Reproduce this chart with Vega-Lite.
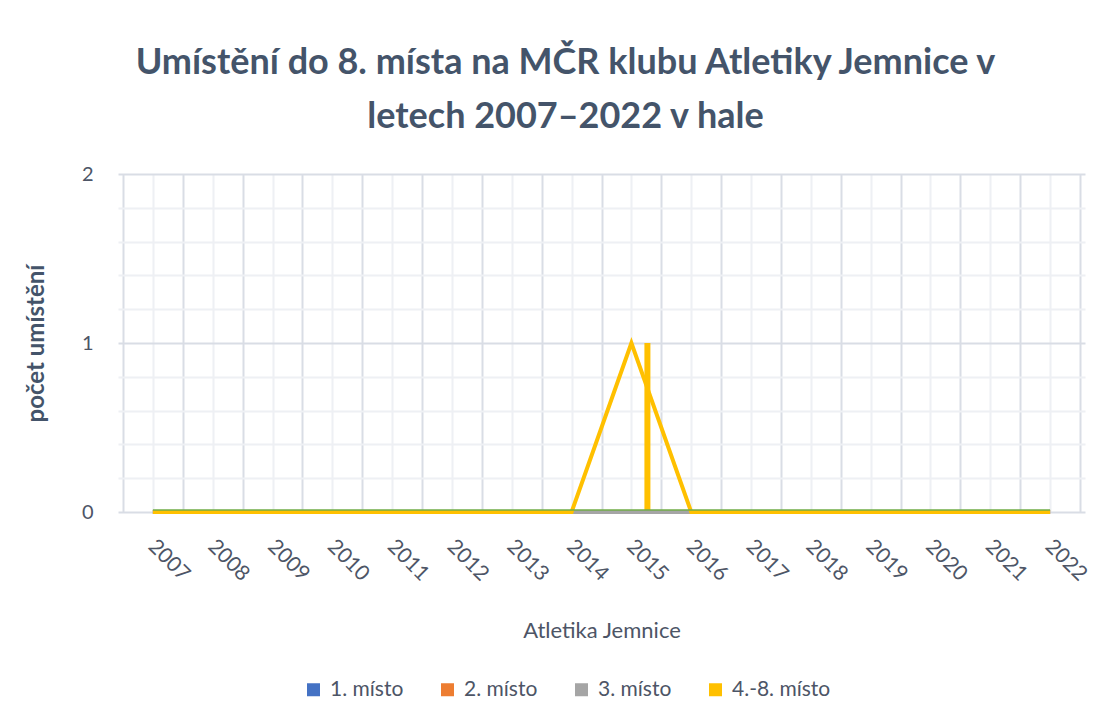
{
  "$schema": "https://vega.github.io/schema/vega-lite/v6.json",
  "width": 967,
  "height": 338,
  "padding": {"left": 24, "top": 45, "right": 20, "bottom": 10},
  "background": "white",
  "title": {
    "text": ["Umístění do 8. místa na MČR klubu Atletiky Jemnice v", "letech 2007–2022 v hale"],
    "font": "Lato", "fontSize": 36, "fontWeight": "bold", "color": "#44546A",
    "lineHeight": 54, "anchor": "middle", "dx": -36, "offset": 28
  },
  "data": {"values": [
    {"rok": 2007, "rada": "1. místo", "pocet": 0}, {"rok": 2008, "rada": "1. místo", "pocet": 0}, {"rok": 2009, "rada": "1. místo", "pocet": 0}, {"rok": 2010, "rada": "1. místo", "pocet": 0},
    {"rok": 2011, "rada": "1. místo", "pocet": 0}, {"rok": 2012, "rada": "1. místo", "pocet": 0}, {"rok": 2013, "rada": "1. místo", "pocet": 0}, {"rok": 2014, "rada": "1. místo", "pocet": 0},
    {"rok": 2015, "rada": "1. místo", "pocet": 0}, {"rok": 2016, "rada": "1. místo", "pocet": 0}, {"rok": 2017, "rada": "1. místo", "pocet": 0}, {"rok": 2018, "rada": "1. místo", "pocet": 0},
    {"rok": 2019, "rada": "1. místo", "pocet": 0}, {"rok": 2020, "rada": "1. místo", "pocet": 0}, {"rok": 2021, "rada": "1. místo", "pocet": 0}, {"rok": 2022, "rada": "1. místo", "pocet": 0},
    {"rok": 2007, "rada": "2. místo", "pocet": 0}, {"rok": 2008, "rada": "2. místo", "pocet": 0}, {"rok": 2009, "rada": "2. místo", "pocet": 0}, {"rok": 2010, "rada": "2. místo", "pocet": 0},
    {"rok": 2011, "rada": "2. místo", "pocet": 0}, {"rok": 2012, "rada": "2. místo", "pocet": 0}, {"rok": 2013, "rada": "2. místo", "pocet": 0}, {"rok": 2014, "rada": "2. místo", "pocet": 0},
    {"rok": 2015, "rada": "2. místo", "pocet": 0}, {"rok": 2016, "rada": "2. místo", "pocet": 0}, {"rok": 2017, "rada": "2. místo", "pocet": 0}, {"rok": 2018, "rada": "2. místo", "pocet": 0},
    {"rok": 2019, "rada": "2. místo", "pocet": 0}, {"rok": 2020, "rada": "2. místo", "pocet": 0}, {"rok": 2021, "rada": "2. místo", "pocet": 0}, {"rok": 2022, "rada": "2. místo", "pocet": 0},
    {"rok": 2007, "rada": "3. místo", "pocet": 0}, {"rok": 2008, "rada": "3. místo", "pocet": 0}, {"rok": 2009, "rada": "3. místo", "pocet": 0}, {"rok": 2010, "rada": "3. místo", "pocet": 0},
    {"rok": 2011, "rada": "3. místo", "pocet": 0}, {"rok": 2012, "rada": "3. místo", "pocet": 0}, {"rok": 2013, "rada": "3. místo", "pocet": 0}, {"rok": 2014, "rada": "3. místo", "pocet": 0},
    {"rok": 2015, "rada": "3. místo", "pocet": 0}, {"rok": 2016, "rada": "3. místo", "pocet": 0}, {"rok": 2017, "rada": "3. místo", "pocet": 0}, {"rok": 2018, "rada": "3. místo", "pocet": 0},
    {"rok": 2019, "rada": "3. místo", "pocet": 0}, {"rok": 2020, "rada": "3. místo", "pocet": 0}, {"rok": 2021, "rada": "3. místo", "pocet": 0}, {"rok": 2022, "rada": "3. místo", "pocet": 0},
    {"rok": 2007, "rada": "4.-8. místo", "pocet": 0}, {"rok": 2008, "rada": "4.-8. místo", "pocet": 0}, {"rok": 2009, "rada": "4.-8. místo", "pocet": 0}, {"rok": 2010, "rada": "4.-8. místo", "pocet": 0},
    {"rok": 2011, "rada": "4.-8. místo", "pocet": 0}, {"rok": 2012, "rada": "4.-8. místo", "pocet": 0}, {"rok": 2013, "rada": "4.-8. místo", "pocet": 0}, {"rok": 2014, "rada": "4.-8. místo", "pocet": 0},
    {"rok": 2015, "rada": "4.-8. místo", "pocet": 1}, {"rok": 2016, "rada": "4.-8. místo", "pocet": 0}, {"rok": 2017, "rada": "4.-8. místo", "pocet": 0}, {"rok": 2018, "rada": "4.-8. místo", "pocet": 0},
    {"rok": 2019, "rada": "4.-8. místo", "pocet": 0}, {"rok": 2020, "rada": "4.-8. místo", "pocet": 0}, {"rok": 2021, "rada": "4.-8. místo", "pocet": 0}, {"rok": 2022, "rada": "4.-8. místo", "pocet": 0},
    {"rok": 2007, "rada": "řada 5", "pocet": 0}, {"rok": 2008, "rada": "řada 5", "pocet": 0}, {"rok": 2009, "rada": "řada 5", "pocet": 0}, {"rok": 2010, "rada": "řada 5", "pocet": 0},
    {"rok": 2011, "rada": "řada 5", "pocet": 0}, {"rok": 2012, "rada": "řada 5", "pocet": 0}, {"rok": 2013, "rada": "řada 5", "pocet": 0}, {"rok": 2014, "rada": "řada 5", "pocet": 0},
    {"rok": 2015, "rada": "řada 5", "pocet": 0}, {"rok": 2016, "rada": "řada 5", "pocet": 0}, {"rok": 2017, "rada": "řada 5", "pocet": 0}, {"rok": 2018, "rada": "řada 5", "pocet": 0},
    {"rok": 2019, "rada": "řada 5", "pocet": 0}, {"rok": 2020, "rada": "řada 5", "pocet": 0}, {"rok": 2021, "rada": "řada 5", "pocet": 0}, {"rok": 2022, "rada": "řada 5", "pocet": 0}
  ]},
  "encoding": {
    "x": {
      "field": "rok", "type": "quantitative",
      "scale": {"domain": [2006.5, 2022.5], "nice": false, "zero": false},
      "axis": {
        "title": "Atletika Jemnice",
        "values": [2006.5, 2007, 2007.5, 2008, 2008.5, 2009, 2009.5, 2010, 2010.5, 2011, 2011.5, 2012, 2012.5, 2013, 2013.5, 2014, 2014.5, 2015, 2015.5, 2016, 2016.5, 2017, 2017.5, 2018, 2018.5, 2019, 2019.5, 2020, 2020.5, 2021, 2021.5, 2022, 2022.5],
        "labelExpr": "datum.value % 1 === 0 ? '' + datum.value : ''",
        "labelAngle": 45, "labelAlign": "left", "labelBaseline": "middle",
        "labelPadding": 31, "labelOffset": -2, "labelFontSize": 21, "labelFlush": false, "labelOverlap": false, "labelBound": false,
        "grid": true,
        "gridColor": {"condition": {"test": "datum.value % 1 !== 0", "value": "#d9dde5"}, "value": "#eef0f4"},
        "gridWidth": 2,
        "ticks": false, "domain": false,
        "titlePadding": 36
      }
    },
    "y": {
      "field": "pocet", "type": "quantitative",
      "scale": {"domain": [0, 2], "nice": false},
      "axis": {
        "title": "počet umístění",
        "values": [0, 0.2, 0.4, 0.6, 0.8, 1, 1.2, 1.4, 1.6, 1.8, 2],
        "labelExpr": "datum.value % 1 === 0 ? '' + datum.value : ''",
        "labelPadding": 25, "labelFontSize": 20,
        "grid": true,
        "gridColor": {"condition": {"test": "datum.value % 1 === 0", "value": "#d9dde5"}, "value": "#eef0f4"},
        "gridWidth": 2,
        "ticks": false, "domain": false,
        "titleFontSize": 24, "titleFontWeight": "bold", "titleColor": "#44546A", "titlePadding": 33
      }
    }
  },
  "layer": [
    {
      "transform": [{"filter": "datum.rada === '4.-8. místo'"}],
      "mark": {"type": "bar", "width": 6, "xOffset": 16},
      "encoding": {
        "color": {"field": "rada", "type": "nominal",
          "scale": {"domain": ["1. místo", "2. místo", "3. místo", "4.-8. místo"], "range": ["#4472C4", "#ED7D31", "#A5A5A5", "#FFC000"]},
          "legend": {"title": null, "orient": "none", "legendX": 185, "legendY": 505, "direction": "horizontal", "symbolType": "square", "symbolSize": 169, "symbolStrokeWidth": 0, "labelFontSize": 21, "labelOffset": 6, "columnPadding": 33}
        }
      }
    },
    {
      "transform": [{"filter": "datum.rada !== 'řada 5'"}],
      "mark": {"type": "line", "strokeWidth": 4, "strokeCap": "butt"},
      "encoding": {
        "color": {"field": "rada", "type": "nominal"}
      }
    },
    {
      "transform": [{"filter": "datum.rada === 'řada 5'"}],
      "mark": {"type": "line", "strokeWidth": 1.5, "color": "#70AD47", "yOffset": -2},
      "encoding": {}
    }
  ],
  "config": {
    "view": {"stroke": null},
    "font": "Lato",
    "axis": {"labelColor": "#4d5566", "titleColor": "#4d5566", "labelFont": "Lato", "titleFont": "Lato", "titleFontWeight": "normal", "titleFontSize": 22},
    "legend": {"labelColor": "#4d5566", "labelFont": "Lato"}
  }
}
